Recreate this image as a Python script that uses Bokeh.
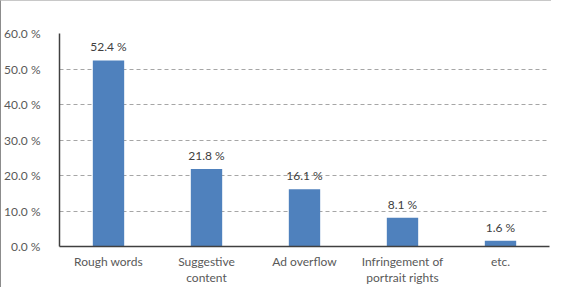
from bokeh.plotting import figure
from bokeh.models import FixedTicker, Range1d, ColumnDataSource
from bokeh.core.properties import value
from bokeh.embed import file_html
from bokeh.resources import INLINE

categories = ["Rough words", "Suggestive\ncontent", "Ad overflow", "Infringement of\nportrait rights", "etc."]
shares = [52.4, 21.8, 16.1, 8.1, 1.6]
share_labels = ["52.4 %", "21.8 %", "16.1 %", "8.1 %", "1.6 %"]
y_ticks = [0, 10, 20, 30, 40, 50, 60]
y_tick_labels = ["0.0 %", "10.0 %", "20.0 %", "30.0 %", "40.0 %", "50.0 %", "60.0 %"]

xs = [i + 0.5 for i in range(len(categories))]
src = ColumnDataSource(dict(x=xs, top=shares, label=share_labels))

FONT = "Lato"
GRAY = "#595959"

p = figure(width=551, height=287, output_backend="svg", toolbar_location=None,
           x_range=Range1d(0, len(xs)), y_range=Range1d(0, 60),
           min_border_left=50, min_border_right=3, min_border_top=32, min_border_bottom=0)
p.styles = {"border-left": "1px solid #8c8c8c", "border-top": "1px solid #c8c8c8"}
p.outline_line_color = None
p.background_fill_color = "white"

p.vbar(x="x", top="top", width=0.32, source=src, fill_color="#4F81BD", line_color=None)
p.text(x="x", y="top", text="label", source=src, text_align="center", text_baseline="bottom",
       y_offset=-6, text_font=value(FONT), text_font_size="12px", text_color="#404040")

p.xgrid.grid_line_color = None
p.ygrid.ticker = FixedTicker(ticks=y_ticks[1:])
p.ygrid.grid_line_color = "#a6a6a6"
p.ygrid.grid_line_dash = "4 3"
p.ygrid.grid_line_width = 1

p.yaxis.ticker = FixedTicker(ticks=y_ticks)
p.yaxis.major_label_overrides = {t: l for t, l in zip(y_ticks, y_tick_labels)}
p.xaxis.ticker = FixedTicker(ticks=xs)
p.xaxis.major_label_overrides = {x: c for x, c in zip(xs, categories)}

for ax in (p.xaxis, p.yaxis):
    ax.major_tick_line_color = None
    ax.minor_tick_line_color = None
    ax.axis_line_color = "#404040"
    ax.axis_line_width = 1.5
    ax.major_label_text_font = FONT
    ax.major_label_text_font_size = "12px"
    ax.major_label_text_color = GRAY
p.yaxis.major_label_standoff = 13
p.xaxis.major_label_standoff = 1
p.xaxis.major_label_text_line_height = 1.1

open("out.html", "w").write(file_html(p, INLINE))
